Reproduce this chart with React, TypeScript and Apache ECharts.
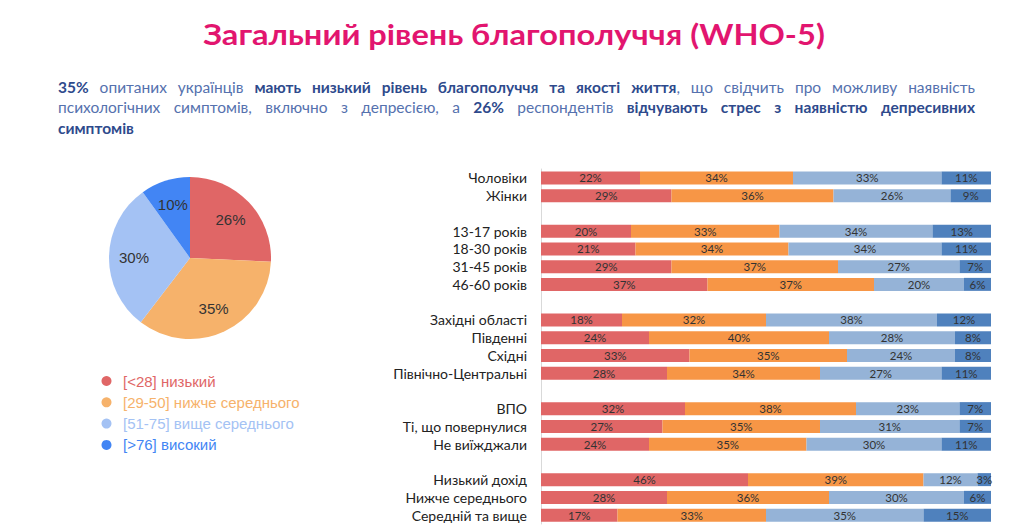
import { useEffect, useRef } from 'react';
import * as echarts from 'echarts';

const titleText = 'Загальний рівень благополуччя (WHO-5)';

// [text, bold]
const paragraphLines: [string, boolean][][] = [
  [
    ['35%', true],
    [' опитаних українців ', false],
    ['мають низький рівень благополуччя та якості життя', true],
    [', що свідчить про можливу наявність', false],
  ],
  [
    ['психологічних симптомів, включно з депресією, а ', false],
    ['26%', true],
    [' респондентів ', false],
    ['відчувають стрес з наявністю депресивних', true],
  ],
  [['симптомів', true]],
];

const pieNames = ['[<28] низький', '[29-50] нижче середнього', '[51-75] вище середнього', '[>76] високий'];
const pieValues = [26, 35, 30, 10];
const pieColors = ['#E06666', '#F6B26B', '#A4C2F4', '#4285F4'];

const groups = [
  'Чоловіки', 'Жінки', ' ',
  '13-17 років', '18-30 років', '31-45 років', '46-60 років', '  ',
  'Західні області', 'Південні', 'Східні', 'Північно-Центральні', '   ',
  'ВПО', 'Ті, що повернулися', 'Не виїжджали', '    ',
  'Низький дохід', 'Нижче середнього', 'Середній та вище',
];
const lowValues = [22, 29, null, 20, 21, 29, 37, null, 18, 24, 33, 28, null, 32, 27, 24, null, 46, 28, 17];
const belowAvgValues = [34, 36, null, 33, 34, 37, 37, null, 32, 40, 35, 34, null, 38, 35, 35, null, 39, 36, 33];
const aboveAvgValues = [33, 26, null, 34, 34, 27, 20, null, 38, 28, 24, 27, null, 23, 31, 30, null, 12, 30, 35];
const highValues = [11, 9, null, 13, 11, 7, 6, null, 12, 8, 8, 11, null, 7, 7, 11, null, 3, 6, 15];
const barNames = ['<28', '29-50', '51-75', '>76'];
const barColors = ['#E06666', '#F79646', '#95B3D7', '#4F81BD'];

const FONT = 'Lato';

// розкладка абзацу з вирівнюванням по ширині
function paragraphElements(ctx: CanvasRenderingContext2D, x0: number, width: number, ys: number[], size: number) {
  const els: any[] = [];
  const measure = (text: string, bold: boolean) => {
    ctx.font = `${bold ? 'bold' : 'normal'} ${size}px ${FONT}`;
    return ctx.measureText(text).width;
  };
  paragraphLines.forEach((line, li) => {
    const words: { text: string; bold: boolean }[][] = [];
    let cur: { text: string; bold: boolean }[] = [];
    line.forEach(([text, bold]) => {
      text.split(' ').forEach((part, i) => {
        if (i > 0 && cur.length) {
          words.push(cur);
          cur = [];
        }
        if (part) cur.push({ text: part, bold });
      });
    });
    if (cur.length) words.push(cur);

    const widths = words.map((w) => w.reduce((s, p) => s + measure(p.text, p.bold), 0));
    const total = widths.reduce((a, b) => a + b, 0);
    const last = li === paragraphLines.length - 1;
    const gap = last || words.length < 2 ? measure(' ', false) : (width - total) / (words.length - 1);

    let x = x0;
    words.forEach((w, wi) => {
      let px = x;
      w.forEach((p) => {
        els.push({
          type: 'text',
          x: px,
          y: ys[li],
          silent: true,
          style: {
            text: p.text,
            fontSize: size,
            fontFamily: FONT,
            fontWeight: p.bold ? 'bold' : 'normal',
            fill: p.bold ? '#2E4A8C' : '#5571AE',
            textVerticalAlign: 'middle',
          },
        });
        px += measure(p.text, p.bold);
      });
      x += widths[wi] + gap;
    });
  });
  return els;
}

export default function App() {
  const chartRef = useRef<HTMLDivElement>(null);

  useEffect(() => {
    if (!chartRef.current) return;
    const chart = echarts.init(chartRef.current, null, { renderer: 'svg' });

    const ctx = document.createElement('canvas').getContext('2d') as CanvasRenderingContext2D;
    ctx.font = `bold 28px ${FONT}`;
    const titleW = ctx.measureText(titleText).width;
    const titleScale = titleW > 0 ? 622 / titleW : 1;

    const barSeries = [lowValues, belowAvgValues, aboveAvgValues, highValues].map((vals, i) => ({
      name: barNames[i],
      type: 'bar',
      stack: 'total',
      barWidth: 13,
      data: vals,
      itemStyle: { color: barColors[i] },
      label: {
        show: true,
        position: 'inside',
        formatter: '{c}%',
        color: '#333',
        fontSize: 11.5,
        fontFamily: FONT,
      },
    }));

    const option = {
      animation: false,
      backgroundColor: '#fff',
      textStyle: { fontFamily: FONT },
      graphic: [
        {
          type: 'text',
          x: 514,
          y: 34,
          scaleX: titleScale,
          silent: true,
          style: {
            text: titleText,
            fontSize: 28,
            fontWeight: 'bold',
            fontFamily: FONT,
            fill: '#E2156F',
            textAlign: 'center',
            textVerticalAlign: 'middle',
          },
        },
        ...paragraphElements(ctx, 58, 917, [87, 107, 128], 15.5),
      ],
      legend: {
        orient: 'vertical',
        left: 96.5,
        top: 368.5,
        itemWidth: 23,
        itemHeight: 10,
        itemGap: 6.3,
        icon: 'circle',
        data: pieNames.map((name, i) => ({
          name,
          textStyle: { color: pieColors[i], fontSize: 15, fontFamily: 'Liberation Sans' },
        })),
      },
      grid: { left: 541, right: 33, top: 169, bottom: 4 },
      xAxis: { type: 'value', min: 0, max: 100, show: false },
      yAxis: {
        type: 'category',
        inverse: true,
        data: groups,
        axisLine: { show: true, lineStyle: { color: '#D9D9D9', width: 1 } },
        axisTick: { show: false },
        axisLabel: { interval: 0, color: '#222', fontSize: 14, fontFamily: FONT, margin: 14 },
      },
      series: [
        {
          name: 'WHO-5',
          type: 'pie',
          center: [190, 258],
          radius: 81,
          startAngle: 90,
          clockwise: true,
          label: { show: false },
          labelLine: { show: false },
          data: pieNames.map((name, i) => ({ name, value: pieValues[i], itemStyle: { color: pieColors[i] } })),
        },
        {
          name: 'WHO-5 labels',
          type: 'pie',
          center: [190, 258],
          radius: 106,
          startAngle: 90,
          clockwise: true,
          silent: true,
          itemStyle: { color: 'rgba(0,0,0,0)' },
          label: {
            show: true,
            position: 'inside',
            formatter: '{c}%',
            color: '#333',
            fontSize: 15,
            fontFamily: 'Liberation Sans',
          },
          labelLine: { show: false },
          data: pieNames.map((name, i) => ({ name, value: pieValues[i] })),
        },
        ...barSeries,
      ],
    };

    chart.setOption(option as any);
    return () => chart.dispose();
  }, []);

  return (
    <div
      ref={chartRef}
      style={{ position: 'fixed', left: 0, top: 0, width: 1024, height: 528, background: '#fff' }}
    />
  );
}
